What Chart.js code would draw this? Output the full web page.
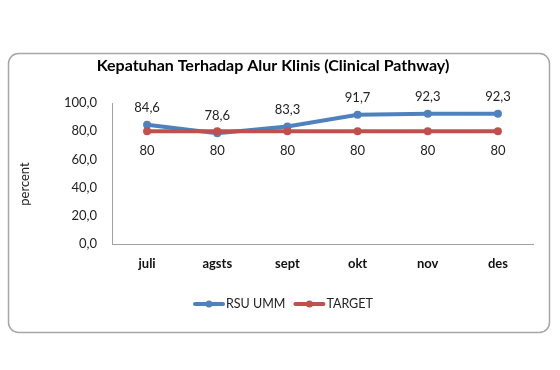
<!DOCTYPE html>
<html>
<head>
<meta charset="utf-8">
<script src="https://cdn.jsdelivr.net/npm/chart.js@4/dist/chart.umd.min.js"></script>
<style>
  html, body { margin:0; padding:0; background:#fff; }
  #wrap { position:relative; width:560px; height:370px; }
</style>
</head>
<body>
<div id="wrap"><canvas id="chart" width="560" height="370"></canvas></div>
<script>
// ── data ──
const bulan     = ['juli','agsts','sept','okt','nov','des'];
const rsuUmm    = [84.6, 78.6, 83.3, 91.7, 92.3, 92.3];
const target    = [80, 80, 80, 80, 80, 80];
const yTicks    = [0, 20, 40, 60, 80, 100];
const judul     = 'Kepatuhan Terhadap Alur Klinis (Clinical Pathway)';
const yJudul    = 'percent';

const BLUE = '#4F81BD', RED = '#C0504D';
const FONT = 'Lato, "Open Sans", sans-serif';

const fmt = v => Number.isInteger(v) ? String(v) : v.toFixed(1).replace('.', ',');

// border, titles, data labels and legend
const decor = {
  id: 'decor',
  beforeDraw(chart) {
    const c = chart.ctx;
    c.save();
    c.strokeStyle = '#a6a6a6';
    c.lineWidth = 1.5;
    c.beginPath();
    c.roundRect(8.5, 53.5, 541, 279, 10);
    c.stroke();
    c.fillStyle = '#000';
    c.textAlign = 'center';
    c.textBaseline = 'middle';
    c.font = 'bold 16px ' + FONT;
    c.fillText(judul, 273, 66);
    c.fillStyle = '#222';
    c.font = '13px ' + FONT;
    c.translate(25, 184);
    c.rotate(-Math.PI / 2);
    c.fillText(yJudul, 0, 0);
    c.restore();
  },
  afterDatasetsDraw(chart) {
    const c = chart.ctx;
    c.save();
    c.font = '13px ' + FONT;
    c.fillStyle = '#222';
    c.textAlign = 'center';
    c.textBaseline = 'middle';
    chart.data.datasets.forEach((ds, i) => {
      chart.getDatasetMeta(i).data.forEach((pt, j) => {
        c.fillText(fmt(ds.data[j]), pt.x, pt.y + ds.labelOffset);
      });
    });
    c.restore();
  },
  afterDraw(chart) {
    const c = chart.ctx;
    c.save();
    c.font = '12.5px ' + FONT;
    c.textBaseline = 'middle';
    let x = 193;
    const y = 304;
    chart.data.datasets.forEach(ds => {
      c.strokeStyle = ds.borderColor;
      c.lineWidth = 4;
      c.lineCap = 'round';
      c.beginPath(); c.moveTo(x + 2, y); c.lineTo(x + 30, y); c.stroke();
      c.fillStyle = ds.borderColor;
      c.beginPath(); c.arc(x + 16, y, 3.5, 0, Math.PI * 2); c.fill();
      c.fillStyle = '#222';
      c.fillText(ds.label, x + 33, y);
      x += 33 + c.measureText(ds.label).width + 8;
    });
    c.restore();
  }
};

new Chart(document.getElementById('chart'), {
  type: 'line',
  data: {
    labels: bulan,
    datasets: [
      { label: 'RSU UMM', data: rsuUmm, borderColor: BLUE, backgroundColor: BLUE,
        borderWidth: 4, pointRadius: 4, pointBorderWidth: 0, pointHoverRadius: 4, tension: 0, order: 1, labelOffset: -17 },
      { label: 'TARGET', data: target, borderColor: RED, backgroundColor: RED,
        borderWidth: 4, pointRadius: 4, pointBorderWidth: 0, pointHoverRadius: 4, tension: 0, order: 0, labelOffset: 20 }
    ]
  },
  options: {
    responsive: false,
    animation: false,
    layout: { padding: { left: 12, top: 103, right: 27, bottom: 96 } },
    plugins: { legend: { display: false }, title: { display: false }, tooltip: { enabled: false } },
    scales: {
      x: {
        offset: true,
        grid: { display: false, drawTicks: false },
        border: { display: true, color: '#a0a0a0', width: 1 },
        ticks: { color: '#111', padding: 12, font: { family: FONT, size: 13, weight: 'bold' } },
        afterFit: s => { s.height = 30; }
      },
      y: {
        min: 0, max: 100,
        afterBuildTicks: s => { s.ticks = yTicks.map(v => ({ value: v })); },
        grid: { display: false, drawTicks: false },
        border: { display: true, color: '#a0a0a0', width: 1 },
        ticks: { color: '#222', padding: 15, font: { family: FONT, size: 13 }, callback: v => v.toFixed(1).replace('.', ',') },
        afterFit: s => { s.width = 100; }
      }
    }
  },
  plugins: [decor]
});
</script>
</body>
</html>
